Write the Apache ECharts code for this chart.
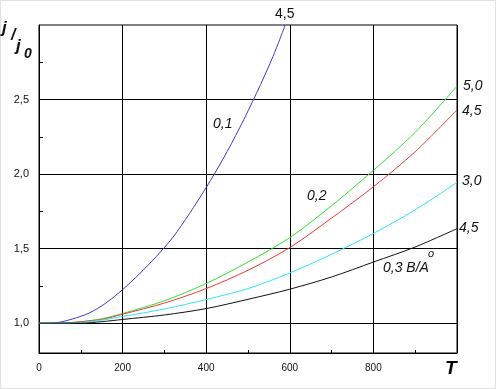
<!DOCTYPE html>
<html>
<head>
<meta charset="utf-8">
<script src="https://cdn.jsdelivr.net/npm/echarts@6/dist/echarts.min.js"></script>
<style>
html,body{margin:0;padding:0;background:#fff;}
#c{width:496px;height:389px;}
</style>
</head>
<body>
<div id="c"></div>
<script>
// ---- data ----
const tBlue  = [0, 40, 80, 120, 160, 200, 240, 280, 320, 360, 400, 440, 480, 520, 560, 589];
const jBlue  = [1.0, 1.003, 1.028, 1.068, 1.135, 1.225, 1.33, 1.445, 1.575, 1.735, 1.91, 2.1, 2.31, 2.54, 2.79, 3.0];
const tOther = [0, 50, 100, 150, 200, 300, 400, 500, 600, 700, 800, 900, 1000];
const jGreen = [1.0, 1.0, 1.01, 1.03, 1.065, 1.15, 1.266, 1.41, 1.574, 1.788, 2.025, 2.28, 2.59];
const jRed   = [1.0, 1.0, 1.01, 1.025, 1.06, 1.135, 1.232, 1.355, 1.507, 1.705, 1.915, 2.15, 2.43];
const jCyan  = [1.0, 1.0, 1.005, 1.02, 1.045, 1.095, 1.159, 1.232, 1.337, 1.462, 1.602, 1.76, 1.945];
const jBlack = [1.0, 1.0, 1.0, 1.01, 1.025, 1.055, 1.098, 1.16, 1.228, 1.31, 1.41, 1.511, 1.634];
const yMajor = [1.0, 1.5, 2.0, 2.5];
const yMinor = [1.25, 1.75, 2.25, 2.75];
const xHidden = [1000];

const pairs = (t, j) => t.map((v, i) => [v, j[i]]);
const fmtComma = v => v.toFixed(1).replace('.', ',');

const chart = echarts.init(document.getElementById('c'));
const FONT = '"Liberation Sans", Arial, sans-serif';
const GL = 39, GR = 39, W = 496;

function line(name, data, color) {
  return {
    name, type: 'line', data, xAxisIndex: 0, yAxisIndex: 0,
    showSymbol: false, symbol: 'none', smooth: 0.3, silent: true,
    lineStyle: { color, width: 1 }, clip: true
  };
}

const txt = (x, y, s, size, opts) => Object.assign({
  type: 'text', left: x, top: y, silent: true,
  style: { text: s, fill: '#111', font: 'italic ' + size + 'px ' + FONT }
}, opts || {});

chart.setOption({
  animation: false,
  backgroundColor: '#fff',
  grid: { left: GL, top: 25, right: GR, bottom: 36, show: true, borderColor: '#000', borderWidth: 1, backgroundColor: 'transparent' },
  xAxis: {
    type: 'value', min: 0, max: 1000, interval: 200,
    axisLine: { show: true, lineStyle: { color: '#000', width: 1 } },
    axisTick: { show: true, inside: true, length: 3, lineStyle: { color: '#000' } },
    minorTick: { show: true, splitNumber: 2, length: 3, lineStyle: { color: '#000' } },
    splitLine: { show: true, lineStyle: { color: '#000', width: 1 } },
    axisLabel: {
      color: '#111', fontSize: 10, fontFamily: FONT, margin: 10,
      formatter: v => xHidden.includes(v) ? '' : String(v)
    }
  },
  yAxis: [{
    type: 'value', min: 0.8, max: 3.0, position: 'left',
    axisLine: { show: true, lineStyle: { color: '#000', width: 1 } },
    axisTick: { show: false, customValues: yMajor },
    splitLine: { show: true, lineStyle: { color: '#000', width: 1 } },
    axisLabel: { customValues: yMajor, color: '#111', fontSize: 11, fontFamily: FONT, margin: 10, formatter: v => fmtComma(v) }
  }, {
    type: 'value', min: 0.8, max: 3.0, position: 'right', offset: -(W - GL - GR),
    axisLine: { show: false },
    axisTick: { show: true, inside: false, length: 4, customValues: yMinor, lineStyle: { color: '#000' } },
    splitLine: { show: false },
    axisLabel: { show: false }
  }],
  series: [
    line('0,1', pairs(tBlue, jBlue), '#3a3ad8'),
    line('5,0', pairs(tOther, jGreen), '#33e033'),
    line('4,5r', pairs(tOther, jRed), '#f03a3a'),
    line('3,0', pairs(tOther, jCyan), '#30e8f0'),
    line('4,5k', pairs(tOther, jBlack), '#111111')
  ],
  graphic: [
    { type: 'rect', silent: true, shape: { x: 0.5, y: 0.5, width: 495, height: 388 }, style: { fill: 'none', stroke: '#e2e2e2', lineWidth: 1 } },
    txt(275, 7, '4,5', 14, { style: { text: '4,5', fill: '#111', font: '14px ' + FONT } }),
    txt(463, 79, '5,0', 14),
    txt(462, 104, '4,5', 14),
    txt(462, 174, '3,0', 14),
    txt(459, 221, '4,5', 14),
    txt(213, 117, '0,1', 14),
    txt(307, 189, '0,2', 14),
    txt(383, 261, '0,3 B/A', 14),
    txt(428, 248, 'o', 11),
    txt(445, 359, 'T', 19, { style: { text: 'T', fill: '#000', font: 'italic bold 19px ' + FONT } }),
    txt(2, 20, 'j', 17, { style: { text: 'j', fill: '#111', font: 'italic bold 17px ' + FONT } }),
    txt(11, 28, '/', 16, { style: { text: '/', fill: '#111', font: 'italic bold 16px ' + FONT } }),
    txt(16, 38, 'j', 17, { style: { text: 'j', fill: '#111', font: 'italic bold 17px ' + FONT } }),
    txt(24, 47, '0', 14, { style: { text: '0', fill: '#111', font: 'italic bold 14px ' + FONT } })
  ]
});
</script>
</body>
</html>
